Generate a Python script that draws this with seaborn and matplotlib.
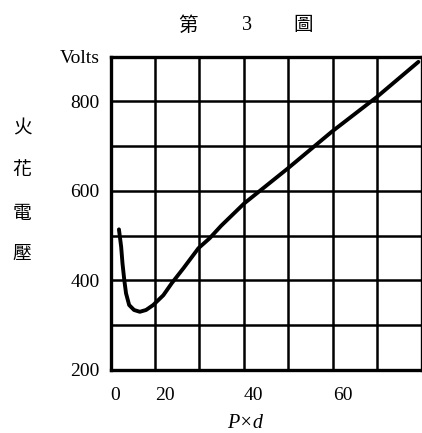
import matplotlib
matplotlib.use("Agg")
import matplotlib.pyplot as plt
import seaborn as sns
import pandas as pd

# data (x in grid units: left edge 10, 10 per cell)
pd_values = [11.9, 12.4, 12.7, 13.1, 13.5, 14.2, 15.3, 16.6, 18.0, 19.6, 21.9,
             23.8, 26.4, 29.8, 32.3, 34.9, 40.1, 45.0, 49.9, 59.8, 70.0, 79.3]
volts = [514, 475, 438, 401, 371, 345, 334, 330, 334, 345, 367,
         394, 427, 472, 494, 522, 572, 611, 650, 732, 810, 888]

x_ticks = [10, 20, 30, 40, 50, 60, 70, 80]
x_labels = ["0", "20", "", "40", "", "60", "", ""]
y_ticks = [200, 300, 400, 500, 600, 700, 800, 900]
y_labels = ["200", "", "400", "", "600", "", "800", "Volts"]

title_parts = ["第", "3", "圖"]
ylabel_chars = ["火", "花", "電", "壓"]
xlabel = "P×d"

sns.set_theme(style="white")
plt.rcParams["font.family"] = ["Liberation Serif", "Noto Sans CJK TC", "DejaVu Sans"]

df = pd.DataFrame({"pd": pd_values, "V": volts})

fig = plt.figure(figsize=(4.22, 4.33), dpi=100)
ax = fig.add_axes([110.5 / 422, 1 - 370 / 433, (421.5 - 110.5) / 422, (370 - 56.5) / 433])

sns.lineplot(data=df, x="pd", y="V", ax=ax, color="black", linewidth=2.8,
             sort=False, estimator=None)

ax.set_xlim(10, 80)
ax.set_ylim(200, 900)
ax.set_xticks(x_ticks)
ax.set_xticklabels(x_labels, ha="left")
ax.set_yticks(y_ticks)
ax.set_yticklabels(y_labels)
ax.tick_params(axis="both", length=0, labelsize=14, colors="black")
ax.tick_params(axis="y", pad=8)
ax.tick_params(axis="x", pad=12)
ax.grid(True, color="black", linewidth=1.8)
ax.set_axisbelow(True)
for s in ax.spines.values():
    s.set_color("black")
    s.set_linewidth(2.4)
    s.set_visible(True)
ax.set_xlabel("")
ax.set_ylabel("")

cjk = ["Noto Sans CJK TC", "DejaVu Sans"]
for xp, t in zip([188, 247, 303], title_parts):
    fam = cjk if t != "3" else ["Liberation Serif"]
    fig.text(xp / 422, 1 - 25 / 433, t, ha="center", va="center",
             fontsize=14 if t != "3" else 14.5, family=fam, color="black")

for yp, c in zip([128, 170, 213, 253], ylabel_chars):
    fig.text(22 / 422, 1 - yp / 433, c, ha="center", va="center",
             fontsize=13.5, family=cjk, color="black")

fig.text(245 / 422, 1 - 423 / 433, xlabel, ha="center", va="center",
         fontsize=14.5, style="italic", family=["Liberation Serif", "DejaVu Serif"],
         color="black")

fig.savefig("out.png", dpi=100, facecolor="white")
